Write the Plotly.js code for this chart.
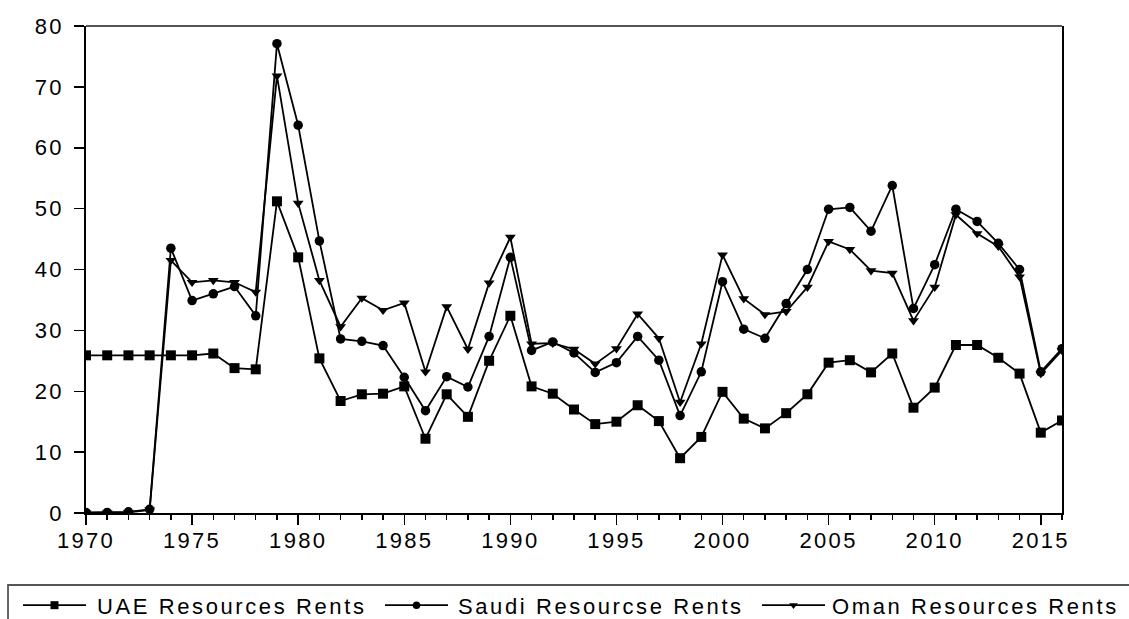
<!DOCTYPE html>
<html>
<head>
<meta charset="utf-8">
<script src="https://cdn.plot.ly/plotly-3.0.1.min.js"></script>
<style>
html,body{margin:0;padding:0;background:#fff;}
#chart{width:1129px;height:619px;}
.xtick text,.ytick text{letter-spacing:2.3px;}
.legendtext{letter-spacing:2.6px;}
</style>
</head>
<body>
<div id="chart"></div>
<script>
const years = [1970,1971,1972,1973,1974,1975,1976,1977,1978,1979,1980,1981,1982,1983,1984,1985,1986,1987,1988,1989,1990,1991,1992,1993,1994,1995,1996,1997,1998,1999,2000,2001,2002,2003,2004,2005,2006,2007,2008,2009,2010,2011,2012,2013,2014,2015,2016];

const uaeRents = [25.9,25.9,25.9,25.9,25.9,25.9,26.2,23.8,23.6,51.2,42.0,25.4,18.4,19.5,19.6,20.8,12.2,19.5,15.8,25.0,32.4,20.8,19.6,17.0,14.6,15.0,17.7,15.1,9.0,12.5,19.9,15.5,13.9,16.4,19.5,24.7,25.1,23.1,26.2,17.3,20.6,27.6,27.6,25.5,22.9,13.2,15.2];

const saudiRents = [0.1,0.1,0.2,0.6,43.5,34.9,36.0,37.2,32.4,77.1,63.7,44.7,28.6,28.2,27.5,22.3,16.8,22.4,20.7,29.0,42.0,26.7,28.1,26.3,23.1,24.7,29.0,25.1,16.0,23.2,38.0,30.2,28.7,34.4,40.0,49.9,50.2,46.3,53.8,33.6,40.8,49.9,47.9,44.3,40.0,23.2,27.0];

const omanRents = [0.0,0.0,0.1,0.5,41.5,37.9,38.2,37.9,36.3,71.8,50.9,38.2,30.6,35.3,33.3,34.5,23.2,33.9,26.9,37.8,45.3,27.8,27.9,26.9,24.5,27.0,32.7,28.7,18.2,27.8,42.4,35.2,32.6,33.1,37.1,44.6,43.3,39.8,39.4,31.6,37.1,49.0,45.9,43.8,38.8,22.9,26.7];

const seriesNames = ["UAE Resources Rents","Saudi Resourcse Rents","Oman Resources Rents"];
const seriesValues = [uaeRents, saudiRents, omanRents];
const seriesSymbols = ["square","circle","triangle-down"];

const traces = seriesValues.map((vals, i) => ({
  x: years,
  y: vals,
  name: seriesNames[i],
  type: "scatter",
  mode: "lines+markers",
  line: {color: "#000", width: 1.8},
  marker: {symbol: seriesSymbols[i], size: i === 0 ? 10 : 9.5, color: "#000"}
}));

const layout = {
  width: 1129,
  height: 619,
  margin: {l: 86, r: 67, t: 26, b: 106},
  paper_bgcolor: "#fff",
  plot_bgcolor: "#fff",
  font: {family: "Liberation Sans, Arial, sans-serif", color: "#000", size: 22},
  showlegend: true,
  legend: {
    orientation: "h",
    xref: "container",
    yref: "container",
    x: 0,
    xanchor: "left",
    y: 0.022,
    yanchor: "middle",
    font: {size: 22, color: "#000"},
    bgcolor: "rgba(0,0,0,0)",
    borderwidth: 0,
    tracegroupgap: 0
  },
  xaxis: {
    range: [1970, 2016],
    tick0: 1970,
    dtick: 5,
    ticks: "outside",
    ticklen: 10,
    tickwidth: 1.5,
    tickcolor: "#000",
    minor: {dtick: 1, ticks: "outside", ticklen: 5, tickwidth: 1.5, tickcolor: "#000", showgrid: false},
    showline: true,
    linecolor: "#000",
    linewidth: 1.8,
    showgrid: false,
    zeroline: false,
    tickfont: {size: 22},
    ticklabelstandoff: -3
  },
  yaxis: {
    range: [0, 80],
    dtick: 10,
    ticks: "outside",
    ticklen: 10,
    tickwidth: 1.5,
    tickcolor: "#000",
    showline: true,
    mirror: true,
    linecolor: "#000",
    linewidth: 1.8,
    showgrid: false,
    zeroline: false,
    tickfont: {size: 22},
    ticklabelstandoff: 6
  },
  shapes: [
    {type: "line", xref: "paper", yref: "paper", x0: 0, x1: 1, y0: 1, y1: 1,
     line: {color: "#555", width: 2}},
    {type: "rect", xref: "paper", yref: "paper", x0: -0.0799, x1: 1.1, y0: -0.1478, y1: -0.26,
     line: {color: "#555", width: 1.8}, fillcolor: "rgba(0,0,0,0)"}
  ]
};

// legend entry placement (pixels in the page): sample line start and text start
const legendLineStart = [23, 385, 762];
const legendTextStart = [97, 458, 832];

Plotly.newPlot("chart", traces, layout, {displayModeBar: false, staticPlot: true}).then(gd => {
  gd.querySelectorAll(".legend [clip-path]").forEach(el => el.removeAttribute("clip-path"));
  const svgLeft = gd.querySelector(".main-svg").getBoundingClientRect().left;
  const legendEl = gd.querySelector(".legend");
  const legendLeft = legendEl.getScreenCTM().e - svgLeft;
  const bg = legendEl.querySelector("rect.bg");
  if (bg) {
    bg.setAttribute("x", 10 - legendLeft);
    bg.setAttribute("width", 1115);
  }
  gd.querySelectorAll(".legend .traces").forEach((item, i) => {
    const base = item.getScreenCTM().e - svgLeft;
    const L = legendLineStart[i] - base;
    item.querySelectorAll(".legendlines path").forEach(p => p.setAttribute("d", "M" + L + ",0h63"));
    item.querySelectorAll(".legendpoints path").forEach(p => {
      p.setAttribute("transform", "translate(" + (L + 31.5) + ",0) scale(0.8)");
    });
    const t = item.querySelector(".legendtext");
    if (t) t.setAttribute("x", legendTextStart[i] - base);
  });
});
</script>
</body>
</html>
